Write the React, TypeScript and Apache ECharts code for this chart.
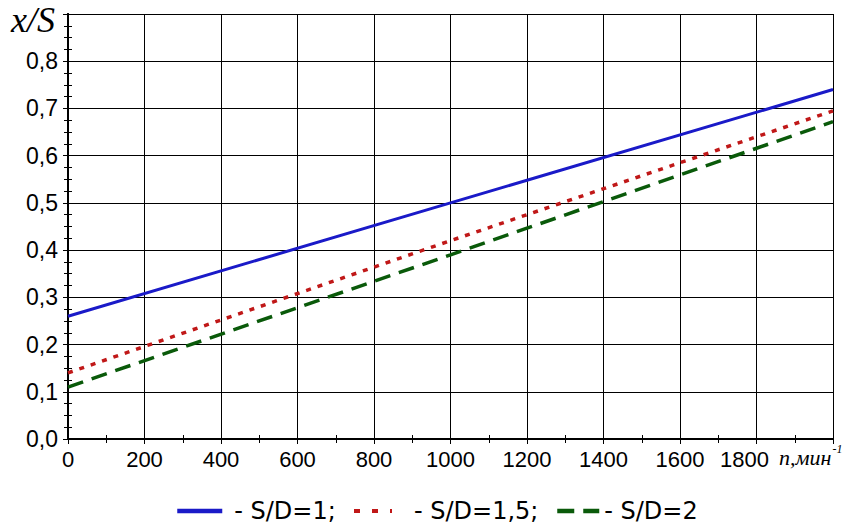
import React, { useEffect, useRef } from "react";
import * as echarts from "echarts";

const xValues = [0, 1000, 2000];
const seriesNames = ["- S/D=1;", "- S/D=1,5;", "- S/D=2"];
const sd1 = [0.26, 0.5, 0.74];
const sd15 = [0.14, 0.42, 0.695];
const sd2 = [0.11, 0.39, 0.672];

const pairs = (ys: number[]) => xValues.map((x, i) => [x, ys[i]]);

export default function App() {
  const ref = useRef<HTMLDivElement>(null);
  useEffect(() => {
    if (!ref.current) return;
    const chart = echarts.init(ref.current, undefined, { renderer: "svg" });
    const sans = "Liberation Sans, Arial, sans-serif";
    const legendFont = "DejaVu Sans, Liberation Sans, sans-serif";
    const serif = "Liberation Serif, Times New Roman, serif";
    const blue = "#1a1ac8";
    const red = "#c01818";
    const green = "#0a5a0a";
    const axisCommon = {
      min: 0,
      axisLine: { show: true, lineStyle: { color: "#000", width: 2 } },
      axisTick: { show: true, inside: true, length: 5, lineStyle: { color: "#000" } },
    };
    const legendText = { color: "#000", fontFamily: legendFont, fontSize: 24, lineHeight: 28 };
    const legendCommon = {
      top: 497,
      padding: 0,
      itemHeight: 14,
      itemStyle: { opacity: 0 },
    };
    chart.setOption({
      animation: false,
      backgroundColor: "#fff",
      grid: { left: 68, right: 18, top: 14, bottom: 91, containLabel: false },
      xAxis: [
        {
          ...axisCommon,
          type: "value",
          position: "bottom",
          max: 2000,
          interval: 200,
          minorTick: { show: true, splitNumber: 2, length: 4, lineStyle: { color: "#000" } },
          splitLine: { show: true, lineStyle: { color: "#000", width: 1 } },
          axisLabel: {
            color: "#000",
            fontFamily: sans,
            fontSize: 22,
            margin: 9,
            formatter: (v: number) =>
              v >= 2000 ? "" : v === 1800 ? "{s|1800}" : String(v),
            rich: {
              s: { fontFamily: sans, fontSize: 22, color: "#000", padding: [0, 24, 0, 0] },
            },
          },
        },
        {
          ...axisCommon,
          type: "value",
          position: "top",
          max: 2000,
          interval: 200,
          minorTick: { show: true, splitNumber: 2, length: 4, lineStyle: { color: "#000" } },
          splitLine: { show: false },
          axisLabel: { show: false },
        },
      ],
      yAxis: [
        {
          ...axisCommon,
          type: "value",
          position: "left",
          max: 0.9,
          interval: 0.1,
          minorTick: { show: true, splitNumber: 4, length: 4, lineStyle: { color: "#000" } },
          splitLine: { show: true, lineStyle: { color: "#000", width: 1 } },
          axisLabel: {
            color: "#000",
            fontFamily: sans,
            fontSize: 23,
            margin: 10,
            formatter: (v: number) => (v > 0.85 ? "" : v.toFixed(1).replace(".", ",")),
          },
        },
        {
          ...axisCommon,
          type: "value",
          position: "right",
          max: 0.9,
          interval: 0.1,
          minorTick: { show: true, splitNumber: 4, length: 4, lineStyle: { color: "#000" } },
          splitLine: { show: false },
          axisLabel: { show: false },
        },
      ],
      legend: [
        {
          ...legendCommon,
          left: 175,
          itemWidth: 45,
          data: [seriesNames[0]],
          lineStyle: { width: 4.5, color: blue, type: "solid" },
          textStyle: { ...legendText, padding: [0, 0, 0, 7] },
        },
        {
          ...legendCommon,
          left: 352,
          itemWidth: 38,
          data: [seriesNames[1]],
          lineStyle: { width: 4, color: red, type: [6, 12] },
          textStyle: { ...legendText, padding: [0, 0, 0, 17] },
        },
        {
          ...legendCommon,
          left: 555,
          itemWidth: 42,
          data: [seriesNames[2]],
          lineStyle: { width: 4.5, color: green, type: [17, 9] },
          textStyle: { ...legendText },
        },
      ],
      graphic: [
        {
          type: "text",
          left: 11,
          top: 2,
          style: {
            text: "x/S",
            fontFamily: serif,
            fontStyle: "italic",
            fontSize: 36,
            fill: "#000",
          },
        },
        {
          type: "text",
          left: 779,
          top: 443,
          style: {
            text: "{a|n,мин}{b|-1}",
            rich: {
              a: { fontFamily: serif, fontStyle: "italic", fontSize: 22, fill: "#000", verticalAlign: "bottom" },
              b: { fontFamily: serif, fontStyle: "italic", fontSize: 12, fill: "#000", verticalAlign: "top", padding: [0, 0, 13, 1] },
            },
          },
        },
      ],
      series: [
        {
          name: seriesNames[0],
          type: "line",
          data: pairs(sd1),
          symbol: "none",
          lineStyle: { color: blue, width: 3, type: "solid" },
          itemStyle: { color: blue },
        },
        {
          name: seriesNames[1],
          type: "line",
          data: pairs(sd15),
          symbol: "none",
          lineStyle: { color: red, width: 3.5, type: [5, 7] },
          itemStyle: { color: red },
        },
        {
          name: seriesNames[2],
          type: "line",
          data: pairs(sd2),
          symbol: "none",
          lineStyle: { color: green, width: 3.5, type: [16, 9] },
          itemStyle: { color: green },
        },
      ],
    });
    return () => chart.dispose();
  }, []);
  return (
    <div
      ref={ref}
      style={{ position: "fixed", left: 0, top: 0, width: 851, height: 530 }}
    />
  );
}
